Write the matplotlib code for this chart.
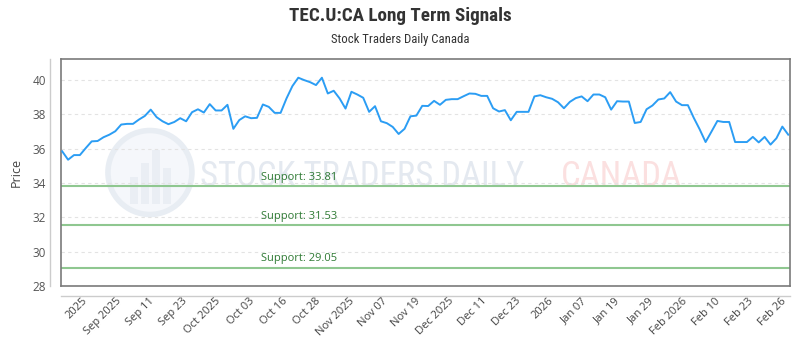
import numpy as np
import matplotlib
matplotlib.use("Agg")
import matplotlib.pyplot as plt
from matplotlib.lines import Line2D
from matplotlib.patches import Ellipse, Rectangle
from matplotlib import font_manager

# closing prices (one per trading day)
prices = [
    35.85, 35.36, 35.63, 35.63, 36.04, 36.43, 36.45, 36.67, 36.82, 37.02,
    37.41, 37.45, 37.45, 37.70, 37.91, 38.28, 37.84, 37.60, 37.43, 37.56,
    37.78, 37.60, 38.13, 38.30, 38.11, 38.60, 38.23, 38.23, 38.56, 37.16,
    37.67, 37.89, 37.78, 37.80, 38.58, 38.44, 38.09, 38.09, 38.93, 39.65,
    40.14, 40.00, 39.88, 39.71, 40.14, 39.22, 39.38, 38.93, 38.34, 39.32,
    39.16, 38.97, 38.15, 38.48, 37.60, 37.49, 37.27, 36.86, 37.16, 37.89,
    37.93, 38.50, 38.49, 38.79, 38.56, 38.85, 38.89, 38.89, 39.06, 39.22,
    39.20, 39.08, 39.08, 38.36, 38.17, 38.25, 37.66, 38.15, 38.15, 38.15,
    39.05, 39.12, 39.00, 38.91, 38.71, 38.36, 38.73, 38.95, 39.05, 38.77,
    39.16, 39.16, 39.00, 38.28, 38.77, 38.75, 38.75, 37.50, 37.56, 38.30,
    38.52, 38.87, 38.93, 39.30, 38.75, 38.54, 38.54, 37.80, 37.13, 36.39,
    37.00, 37.62, 37.56, 37.56, 36.39, 36.39, 36.39, 36.69, 36.37, 36.69,
    36.24, 36.61, 37.29, 36.82,
]

supports = [33.81, 31.53, 29.05]

tick_labels = [
    "2025", "Sep 2025", "Sep 11", "Sep 23", "Oct 2025", "Oct 03", "Oct 16",
    "Oct 28", "Nov 2025", "Nov 07", "Nov 19", "Dec 2025", "Dec 11", "Dec 23",
    "2026", "Jan 07", "Jan 19", "Jan 29", "Feb 2026", "Feb 10", "Feb 23",
    "Feb 26",
]

y_ticks = [28, 30, 32, 34, 36, 38, 40]

W, H = 800, 350
fig = plt.figure(figsize=(W / 100, H / 100), dpi=100)
fig.patch.set_facecolor("white")

# plot frame in pixels: left 61, right 790, top 59, bottom 286
L, R, T, B = 61, 790, 59, 286
ax = fig.add_axes([L / W, 1 - B / H, (R - L) / W, (B - T) / H])

# narrow face for the title and watermark, if one is around
names = {f.name for f in font_manager.fontManager.ttflist}
narrow = ["DejaVu Sans"]
for cand in ["Liberation Sans Narrow", "Roboto Condensed", "Open Sans Condensed",
             "Noto Sans Condensed", "DejaVu Sans Condensed"]:
    if cand in names:
        narrow = [cand, "DejaVu Sans"]
        break
body = ["Open Sans", "DejaVu Sans"]

fig.text(0.5, 1 - 16 / H, "TEC.U:CA Long Term Signals", ha="center", va="center",
         fontsize=13.8, fontweight="bold", color="#333333", family=narrow,
         fontstretch="condensed")
fig.text(0.5, 1 - 40 / H, "Stock Traders Daily Canada", ha="center", va="center",
         fontsize=9.2, color="#333333", family=narrow, fontstretch="condensed")

# watermark
ax.add_patch(Ellipse((0.122, 0.50), 84 / (R - L), 84 / (B - T), transform=ax.transAxes,
                     facecolor="#f5f7fb", edgecolor="#e8edf3", lw=4, zorder=0))
for bx, bh in [(0.095, 0.12), (0.110, 0.18), (0.125, 0.24), (0.140, 0.16)]:
    ax.add_patch(Rectangle((bx, 0.36), 0.011, bh, transform=ax.transAxes,
                           facecolor="#eaeef4", edgecolor="none", zorder=0))
ax.text(200 / W, 1 - 177 / H, "STOCK TRADERS DAILY", transform=fig.transFigure,
        ha="left", va="center", fontsize=25, color="#e4e9f0", family=narrow,
        fontstretch="condensed", zorder=0)
ax.text(621 / W, 1 - 177 / H, "CANADA", transform=fig.transFigure,
        ha="center", va="center", fontsize=25, color="#fbe0e0", family=narrow,
        fontstretch="condensed", zorder=0)

x = np.arange(len(prices))
ax.plot(x, prices, color="#2b9df4", lw=1.4, zorder=3)

for s in supports:
    ax.axhline(s, color="#8fc790", lw=1.5, zorder=2)
    ax.text(0.274, s + 0.22, f"Support: {s:.2f}", transform=ax.get_yaxis_transform(),
            ha="left", va="bottom", fontsize=8, color="#2f7a34", family=body, zorder=4)

ax.set_xlim(-0.2, len(prices) - 1 + 0.3)
ax.set_ylim(28, 41.23)

ax.set_yticks(y_ticks)
ax.yaxis.grid(True, color="#e3e3e3", lw=0.8, linestyle=(0, (3, 3)))
ax.set_axisbelow(True)

tick_pos = np.linspace(3.4, len(prices) - 2.2, len(tick_labels))
ax.set_xticks(tick_pos)
ax.set_xticklabels(tick_labels, rotation=45, ha="right", va="top", rotation_mode="anchor")
ax.tick_params(axis="x", length=0, pad=7, labelsize=8, labelcolor="#444444")
ax.tick_params(axis="y", length=0, pad=11, labelsize=8.5, labelcolor="#555555")
for lab in ax.get_xticklabels() + ax.get_yticklabels():
    lab.set_family(body)

ax.set_ylabel("Price", fontsize=9, color="#444444", family=body, labelpad=7)

for sp in ax.spines.values():
    sp.set_color("#7a7a7a")
    sp.set_linewidth(1.2)

# outer axis lines, offset from the frame
ax.add_line(Line2D([(50 - L) / (R - L)] * 2, [0, 1], transform=ax.transAxes,
                   color="#cccccc", lw=1, clip_on=False))
ax.add_line(Line2D([0, 1], [-10 / (B - T)] * 2, transform=ax.transAxes,
                   color="#cccccc", lw=1, clip_on=False))

fig.savefig("out.png", dpi=100)
